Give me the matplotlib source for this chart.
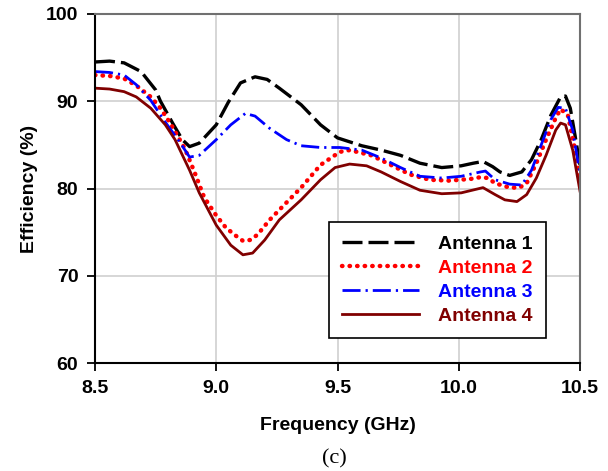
import matplotlib
matplotlib.use("Agg")
import matplotlib.pyplot as plt

plt.rcParams['font.family'] = ['Liberation Sans', 'DejaVu Sans']

freq1 = [8.50, 8.56, 8.62, 8.69, 8.75, 8.77, 8.82, 8.86, 8.89, 8.93, 9.00, 9.05, 9.10, 9.16, 9.21, 9.26, 9.35, 9.43, 9.50, 9.60, 9.68, 9.76, 9.84, 9.93, 10.01, 10.06, 10.10, 10.14, 10.17, 10.21, 10.26, 10.30, 10.34, 10.38, 10.42, 10.44, 10.46, 10.48, 10.50]
ant1 = [94.5, 94.6, 94.4, 93.4, 91.3, 90.0, 87.5, 85.6, 84.8, 85.2, 87.3, 89.9, 92.1, 92.8, 92.5, 91.5, 89.6, 87.3, 85.8, 84.9, 84.4, 83.8, 82.9, 82.4, 82.6, 82.9, 83.1, 82.5, 81.9, 81.5, 81.9, 83.3, 85.6, 88.4, 90.5, 90.6, 89.2, 86.0, 82.7]

freq2 = [8.50, 8.56, 8.62, 8.67, 8.73, 8.77, 8.81, 8.87, 8.91, 8.95, 9.00, 9.04, 9.08, 9.11, 9.14, 9.17, 9.22, 9.29, 9.35, 9.43, 9.51, 9.55, 9.64, 9.72, 9.80, 9.88, 9.96, 10.05, 10.09, 10.12, 10.15, 10.21, 10.25, 10.28, 10.32, 10.36, 10.40, 10.42, 10.45, 10.48, 10.50]
ant2 = [93.0, 92.9, 92.6, 91.8, 90.5, 89.2, 87.5, 84.6, 81.9, 79.0, 76.9, 75.5, 74.6, 74.0, 74.1, 74.7, 76.4, 78.4, 80.1, 82.7, 84.2, 84.4, 83.8, 82.7, 81.6, 81.0, 80.9, 81.1, 81.3, 81.2, 80.6, 80.1, 80.1, 80.6, 82.9, 85.6, 88.1, 89.1, 88.4, 84.4, 81.0]

freq3 = [8.50, 8.56, 8.62, 8.67, 8.73, 8.79, 8.85, 8.89, 8.93, 9.00, 9.06, 9.12, 9.16, 9.22, 9.29, 9.35, 9.43, 9.51, 9.60, 9.68, 9.76, 9.84, 9.93, 10.01, 10.09, 10.11, 10.15, 10.21, 10.26, 10.30, 10.34, 10.38, 10.41, 10.44, 10.47, 10.50]
ant3 = [93.4, 93.3, 93.0, 91.9, 90.1, 87.6, 85.3, 83.6, 83.8, 85.6, 87.3, 88.6, 88.3, 86.9, 85.6, 84.9, 84.7, 84.7, 84.4, 83.5, 82.4, 81.4, 81.2, 81.4, 81.9, 82.0, 81.0, 80.5, 80.4, 82.1, 85.0, 87.9, 89.3, 89.2, 86.7, 81.6]

freq4 = [8.50, 8.56, 8.62, 8.67, 8.73, 8.79, 8.83, 8.89, 8.93, 9.00, 9.06, 9.11, 9.15, 9.20, 9.26, 9.35, 9.43, 9.49, 9.55, 9.62, 9.68, 9.76, 9.84, 9.93, 10.01, 10.07, 10.10, 10.15, 10.19, 10.24, 10.28, 10.32, 10.36, 10.40, 10.42, 10.44, 10.47, 10.50]
ant4 = [91.5, 91.4, 91.1, 90.5, 89.2, 87.3, 85.6, 82.1, 79.5, 75.8, 73.5, 72.4, 72.6, 74.1, 76.4, 78.7, 81.0, 82.4, 82.8, 82.6, 81.9, 80.8, 79.8, 79.4, 79.5, 79.9, 80.1, 79.3, 78.7, 78.5, 79.3, 81.2, 83.8, 86.7, 87.5, 87.3, 84.4, 79.7]

labels = ["Antenna 1", "Antenna 2", "Antenna 3", "Antenna 4"]
xticks = [8.5, 9.0, 9.5, 10.0, 10.5]
xticklabels = ["8.5", "9.0", "9.5", "10.0", "10.5"]
yticks = [60, 70, 80, 90, 100]

fig = plt.figure(figsize=(6.08, 4.71), dpi=100)
ax = fig.add_axes([95/608, 1-363/471, 485/608, 349/471])

ax.plot(freq1, ant1, color='black', lw=2.4, linestyle=(0, (6, 1.8)), label=labels[0])
ax.plot(freq2, ant2, color='#ff0000', lw=3.2, linestyle=(0, (0.1, 1.6)), dash_capstyle='round', label=labels[1])
ax.plot(freq3, ant3, color='#0000ff', lw=2.0, linestyle=(0, (6.5, 1.8, 0.8, 1.8)), label=labels[2])
ax.plot(freq4, ant4, color='#800000', lw=2.0, linestyle='-', label=labels[3])

ax.set_xlim(8.5, 10.5)
ax.set_ylim(60, 100)
ax.set_xticks(xticks)
ax.set_xticklabels(xticklabels)
ax.set_yticks(yticks)
ax.grid(True, color='#d0d0d0', lw=1.2)
ax.set_axisbelow(True)
for s in ['left', 'bottom']:
    ax.spines[s].set_color('black')
    ax.spines[s].set_linewidth(1.5)
for s in ['top', 'right']:
    ax.spines[s].set_color('#707070')
    ax.spines[s].set_linewidth(1.5)
ax.tick_params(direction='out', length=6, width=1.3, labelsize=14, pad=6)
for t in ax.get_xticklabels() + ax.get_yticklabels():
    t.set_fontweight('bold')

ax.set_xlabel("Frequency (GHz)", fontsize=14, fontweight='bold', labelpad=15)
ax.set_ylabel("Efficiency (%)", fontsize=14, fontweight='bold', labelpad=6)

leg = ax.legend(loc='upper left', bbox_to_anchor=(0.482, 0.404),
                prop={'weight': 'bold', 'size': 14}, handlelength=3.95,
                labelspacing=0.33, borderpad=0.68, handletextpad=1.0,
                borderaxespad=0, fancybox=False, framealpha=1, edgecolor='black')
leg.get_frame().set_linewidth(1.2)
colors = ['black', '#ff0000', '#0000ff', '#800000']
for t, c in zip(leg.get_texts(), colors):
    t.set_color(c)

fig.text(334/608, 1-459/471, "(c)", fontsize=16, family=['Liberation Serif', 'DejaVu Serif'],
         ha='center', va='center')

fig.savefig("out.png", dpi=100)
